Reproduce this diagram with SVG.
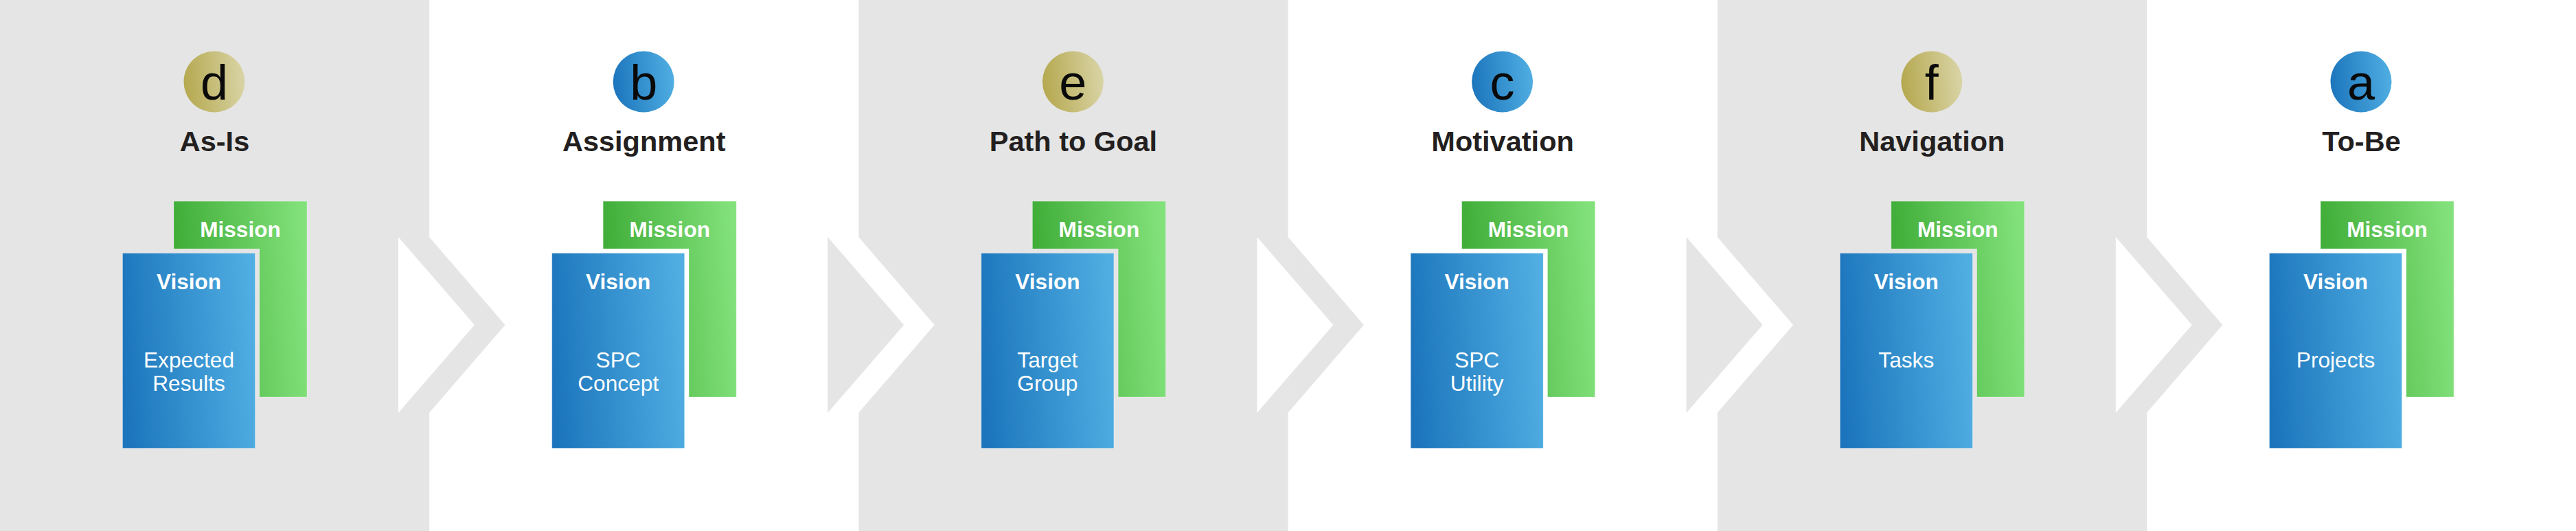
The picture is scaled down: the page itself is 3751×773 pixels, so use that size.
<svg xmlns="http://www.w3.org/2000/svg" width="3751" height="773" viewBox="0 0 3751 773">
<style>
text{font-family:"Liberation Sans",Arial,sans-serif;text-anchor:middle}
.gray{fill:#e5e5e5}.white{fill:#fff}
.green{fill:url(#gGreen);stroke:#fff;stroke-opacity:.3;stroke-width:1}
.blue{fill:url(#gBlue);stroke:#fff;stroke-opacity:.3;stroke-width:1}
.cb{fill:url(#gBlue)}.cg{fill:url(#gGold)}
.ltr{font-size:72px;fill:#0a0a0a}
.ttl{font-size:41.5px;font-weight:700;fill:#231f20}
.hd{font-size:31.6px;font-weight:700;fill:#fff}
.bd{font-size:31.7px;fill:#fff}
</style>
<defs>
<linearGradient id="gGreen" x1="0" y1="0.55" x2="1" y2="0.45"><stop offset="0" stop-color="#3dab35"/><stop offset="1" stop-color="#82e17b"/></linearGradient>
<linearGradient id="gBlue" x1="0" y1="0.55" x2="1" y2="0.45"><stop offset="0" stop-color="#1c75bc"/><stop offset="1" stop-color="#50aee2"/></linearGradient>
<linearGradient id="gGold" x1="0" y1="0.55" x2="1" y2="0.45"><stop offset="0" stop-color="#b5a84f"/><stop offset="1" stop-color="#d9d4a6"/></linearGradient>
<polygon id="outer" points="625,345 735.5,473 625,601"/>
<polygon id="inner" points="580,345 691,473 580,601"/>
</defs>
<g id="bands">
<rect class="white" width="3751" height="773"/>
<rect class="gray" x="0" y="0" width="625.2" height="773"/>
<rect class="gray" x="1250.4" y="0" width="625.2" height="773"/>
<rect class="gray" x="2500.8" y="0" width="625.2" height="773"/>
</g>
<g id="n-as-is">
<circle class="cg" cx="312" cy="119" r="44.5"/>
<text class="ltr" x="312" y="145">d</text>
<text class="ttl" x="312.500" y="220">As-Is</text>
<rect class="green" x="253" y="293" width="194" height="285"/>
<rect class="gray" x="172" y="362" width="206" height="296"/>
<rect class="blue" x="178.500" y="368.500" width="193" height="284"/>
<text class="hd" x="350" y="345">Mission</text>
<text class="hd" x="275" y="421">Vision</text>
<text class="bd" x="275" y="535">Expected</text>
<text class="bd" x="275" y="569">Results</text>
</g>
<g id="n-assignment" transform="translate(625.2 0)">
<circle class="cb" cx="312" cy="119" r="44.5"/>
<text class="ltr" x="312" y="145">b</text>
<text class="ttl" x="312.500" y="220">Assignment</text>
<rect class="green" x="253" y="293" width="194" height="285"/>
<rect class="white" x="172" y="362" width="206" height="296"/>
<rect class="blue" x="178.500" y="368.500" width="193" height="284"/>
<text class="hd" x="350" y="345">Mission</text>
<text class="hd" x="275" y="421">Vision</text>
<text class="bd" x="275" y="535">SPC</text>
<text class="bd" x="275" y="569">Concept</text>
</g>
<g id="n-path-to-goal" transform="translate(1250.4 0)">
<circle class="cg" cx="312" cy="119" r="44.5"/>
<text class="ltr" x="312" y="145">e</text>
<text class="ttl" x="312.500" y="220">Path to Goal</text>
<rect class="green" x="253" y="293" width="194" height="285"/>
<rect class="gray" x="172" y="362" width="206" height="296"/>
<rect class="blue" x="178.500" y="368.500" width="193" height="284"/>
<text class="hd" x="350" y="345">Mission</text>
<text class="hd" x="275" y="421">Vision</text>
<text class="bd" x="275" y="535">Target</text>
<text class="bd" x="275" y="569">Group</text>
</g>
<g id="n-motivation" transform="translate(1875.6 0)">
<circle class="cb" cx="312" cy="119" r="44.5"/>
<text class="ltr" x="312" y="145">c</text>
<text class="ttl" x="312.500" y="220">Motivation</text>
<rect class="green" x="253" y="293" width="194" height="285"/>
<rect class="white" x="172" y="362" width="206" height="296"/>
<rect class="blue" x="178.500" y="368.500" width="193" height="284"/>
<text class="hd" x="350" y="345">Mission</text>
<text class="hd" x="275" y="421">Vision</text>
<text class="bd" x="275" y="535">SPC</text>
<text class="bd" x="275" y="569">Utility</text>
</g>
<g id="n-navigation" transform="translate(2500.8 0)">
<circle class="cg" cx="312" cy="119" r="44.5"/>
<text class="ltr" x="312" y="145">f</text>
<text class="ttl" x="312.500" y="220">Navigation</text>
<rect class="green" x="253" y="293" width="194" height="285"/>
<rect class="gray" x="172" y="362" width="206" height="296"/>
<rect class="blue" x="178.500" y="368.500" width="193" height="284"/>
<text class="hd" x="350" y="345">Mission</text>
<text class="hd" x="275" y="421">Vision</text>
<text class="bd" x="275" y="535">Tasks</text>
</g>
<g id="n-to-be" transform="translate(3126 0)">
<circle class="cb" cx="312" cy="119" r="44.5"/>
<text class="ltr" x="312" y="145">a</text>
<text class="ttl" x="312.500" y="220">To-Be</text>
<rect class="green" x="253" y="293" width="194" height="285"/>
<rect class="white" x="172" y="362" width="206" height="296"/>
<rect class="blue" x="178.500" y="368.500" width="193" height="284"/>
<text class="hd" x="350" y="345">Mission</text>
<text class="hd" x="275" y="421">Vision</text>
<text class="bd" x="275" y="535">Projects</text>
</g>
<g id="connectors">
<use href="#outer" class="gray"/><use href="#inner" class="white"/>
<use href="#outer" class="white" transform="translate(625.2 0)"/><use href="#inner" class="gray" transform="translate(625.2 0)"/>
<use href="#outer" class="gray" transform="translate(1250.4 0)"/><use href="#inner" class="white" transform="translate(1250.4 0)"/>
<use href="#outer" class="white" transform="translate(1875.6 0)"/><use href="#inner" class="gray" transform="translate(1875.6 0)"/>
<use href="#outer" class="gray" transform="translate(2500.8 0)"/><use href="#inner" class="white" transform="translate(2500.8 0)"/>
</g>
</svg>
